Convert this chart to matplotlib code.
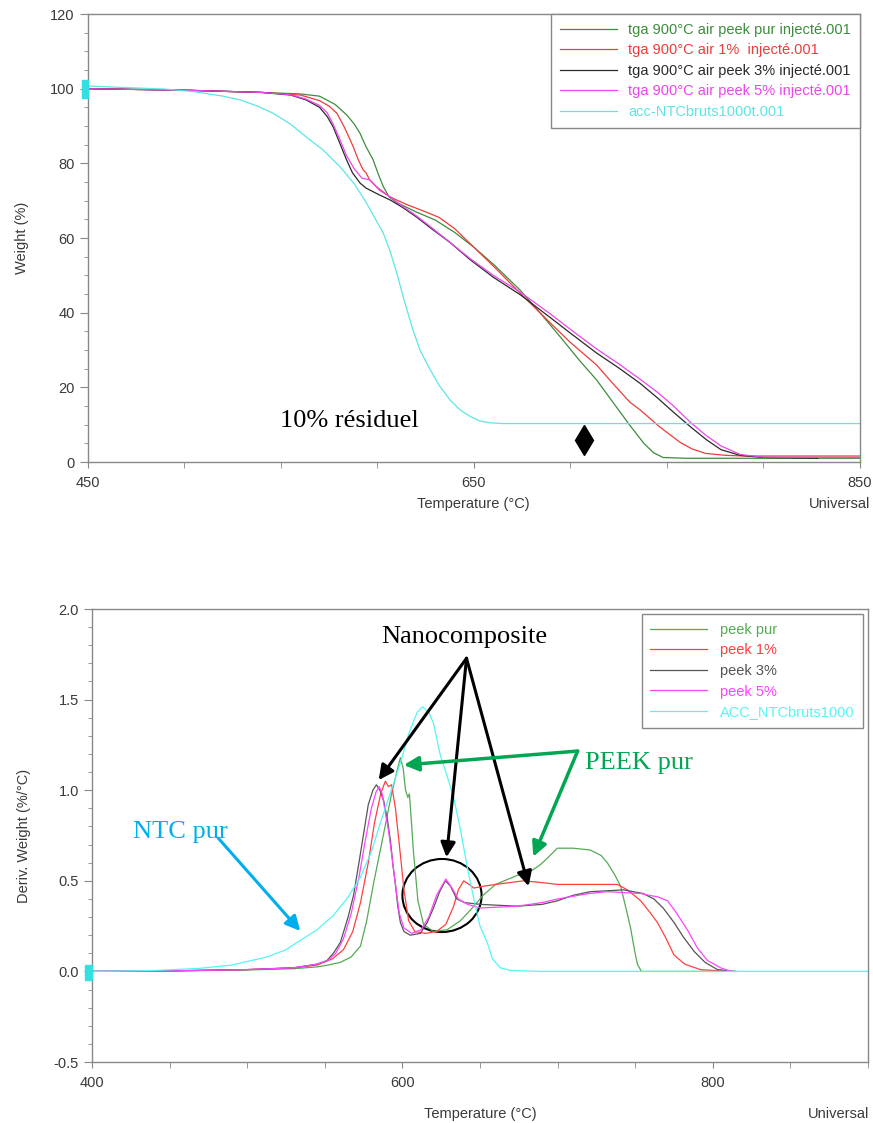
import numpy as np
import matplotlib.pyplot as plt
from matplotlib.ticker import MultipleLocator, FixedLocator
from matplotlib.patches import Ellipse, Rectangle
import matplotlib.transforms as mtransforms

plt.rcParams['font.family'] = ['Liberation Sans', 'DejaVu Sans']
SERIF = ['Liberation Serif', 'DejaVu Serif']

# ---------------- TGA curves (weight %) ----------------
tga_labels = ['tga 900°C air peek pur injecté.001',
              'tga 900°C air 1%  injecté.001',
              'tga 900°C air peek 3% injecté.001',
              'tga 900°C air peek 5% injecté.001',
              'acc-NTCbruts1000t.001']

t_pur = [450, 500, 540, 560, 570, 578, 584, 588, 591, 594, 597.7, 600.5, 603, 606, 610, 620, 630,
         640, 650, 660, 674, 685, 696, 705, 713.5, 722, 730.8, 738, 743, 748, 760, 800, 850]
w_pur = [100, 99.6, 99, 98.6, 98.0, 95.8, 93, 90.5, 88, 84.5, 81, 77, 73.8, 71, 69.5, 67, 64.8,
         61.5, 57.5, 53, 46, 39.5, 32.7, 27, 22, 16, 9.8, 5, 2.5, 1.2, 1.0, 1.0, 1.0]

t_1 = [450, 500, 540, 560, 570, 575, 579, 583, 587.4, 590, 592.6, 594, 596, 600, 606.5, 615, 625,
       632, 640, 650, 660, 674, 690, 700, 713.5, 722, 730.8, 736, 746, 756.7, 763, 770, 780, 790, 850]
w_1 = [100, 99.6, 99, 98.3, 96.8, 95.3, 93.4, 89.5, 84.5, 81, 78.2, 77.5, 75.5, 73.5, 71, 69, 67,
       65.5, 62.5, 57.5, 52.5, 45.2, 37, 32, 26, 21, 16, 14, 9.5, 5.3, 3.5, 2.3, 1.8, 1.6, 1.6]

t_3 = [450, 500, 540, 555, 563, 570, 574, 577, 580, 584, 587, 591, 594, 600, 606.5, 613, 620, 628,
       637.6, 648, 660, 674, 690, 700, 713.5, 725, 736, 745, 753, 762, 770.6, 778, 787.8, 800, 828]
w_3 = [100, 99.6, 99, 98.3, 97, 95, 92.5, 89.8, 86, 80.9, 77.5, 74.7, 73.4, 71.8, 70.2, 68.2, 65.7,
       62.5, 58.8, 54.2, 49.5, 44.8, 38.5, 34.5, 29.2, 25.2, 21.1, 17.2, 13.5, 9.5, 5.9, 3.3, 1.8, 1.2, 1.0]

t_5 = [450, 500, 540, 555, 563, 570, 574, 577, 580, 584, 588, 592, 596, 598, 601, 606.5, 613, 620,
       628, 637.6, 648, 660, 674, 690, 700, 713.5, 725, 736, 745, 753, 762, 770, 778, 788, 800, 850]
w_5 = [100, 99.6, 99, 98.4, 97.2, 95.5, 93.5, 90.5, 87, 82, 78.5, 76, 75.6, 74.5, 72.8, 71, 68.5, 66,
       62.8, 58.8, 54.5, 50, 45.5, 39.5, 35.5, 30.3, 26.3, 22.2, 18.7, 15.2, 10.7, 7.2, 4.3, 2, 1.3, 1.2]

t_ntc = [450, 470, 490, 505, 520, 529, 538, 546, 555, 563, 572, 580.6, 588, 594.4, 599, 603, 606.5,
         610, 614, 618, 622, 627, 632, 637.6, 642.7, 648, 653, 658, 665, 700, 850]
w_ntc = [100.7, 100.3, 99.9, 99.2, 98.0, 97.0, 95.3, 93.4, 90.5, 87.1, 83.5, 79.1, 74.5, 69.3, 65, 61.3, 56.5,
         50.6, 43, 36, 30, 25, 20.5, 16.6, 14, 12.2, 11, 10.5, 10.3, 10.3, 10.3]

# ---------------- DTG curves (deriv. weight %/°C) ----------------
dtg_labels = ['peek pur', 'peek 1%', 'peek 3%', 'peek 5%', 'ACC_NTCbruts1000']

d_t_pur = [400, 450, 500, 530, 545, 552, 560, 567, 573, 577, 581.5, 586, 590, 593, 596.6, 598.7, 600.5,
           602, 603.5, 604.5, 606, 607, 610, 613.6, 620, 628.8, 637.4, 645, 652, 660, 674, 684, 689,
           694, 699.8, 710, 721, 728, 732, 737, 740.6, 744, 747, 749.5, 751.4, 754, 810]
d_pur = [0, 0.003, 0.008, 0.015, 0.025, 0.035, 0.05, 0.08, 0.14, 0.28, 0.49, 0.68, 0.85, 0.98, 1.11, 1.18, 1.12,
         1.0, 0.96, 0.98, 0.8, 0.67, 0.39, 0.26, 0.22, 0.23, 0.28, 0.35, 0.42, 0.48, 0.53, 0.56, 0.59,
         0.63, 0.68, 0.68, 0.67, 0.64, 0.60, 0.53, 0.47, 0.35, 0.24, 0.12, 0.04, 0.0, 0.0]

d_t_1 = [400, 450, 500, 530, 545, 555, 562, 568, 573, 578, 582, 586, 589, 591, 593, 595.5, 598, 601,
         604, 608, 615, 622, 628, 633, 636, 639.5, 643, 646, 652, 660, 678, 690, 700, 720, 738.5, 745,
         753.5, 760, 764.3, 770, 775, 782, 792, 810]
d_1 = [0, 0.003, 0.01, 0.02, 0.035, 0.07, 0.12, 0.22, 0.38, 0.6, 0.82, 0.98, 1.05, 1.02, 1.03, 0.9, 0.7, 0.45,
       0.28, 0.22, 0.21, 0.22, 0.26, 0.36, 0.45, 0.50, 0.48, 0.46, 0.47, 0.48, 0.50, 0.49, 0.48, 0.48, 0.48, 0.45,
       0.39, 0.32, 0.27, 0.18, 0.09, 0.04, 0.01, 0.0]

d_t_3 = [400, 450, 500, 530, 545, 551.4, 555.5, 560, 565, 568.5, 572, 575, 578, 581, 583.2, 585.5, 588,
         590.5, 592.3, 594, 595.5, 597, 598.7, 601, 605, 611.6, 616, 620, 624, 627.7, 631, 635, 640, 650,
         674, 690, 700, 710, 721, 742.6, 755, 762, 768, 775, 781, 788, 795, 803, 815]
d_3 = [0, 0.003, 0.01, 0.02, 0.04, 0.06, 0.10, 0.16, 0.30, 0.42, 0.6, 0.76, 0.92, 1.0, 1.03, 1.0, 0.94,
       0.83, 0.72, 0.58, 0.48, 0.36, 0.27, 0.22, 0.2, 0.21, 0.27, 0.35, 0.44, 0.50, 0.47, 0.40, 0.38, 0.37,
       0.36, 0.37, 0.39, 0.42, 0.44, 0.45, 0.43, 0.40, 0.35, 0.27, 0.19, 0.11, 0.05, 0.01, 0.0]

d_t_5 = [400, 450, 500, 530, 545, 552, 557, 562, 567, 572, 576, 580, 583, 585, 587, 589.5, 591, 593,
         595.5, 598, 601, 606, 612, 617, 622, 628, 632, 636, 642, 650, 674, 690, 700, 720, 732, 753.5,
         765, 770.8, 776, 783.6, 790, 796.6, 805, 812]
d_5 = [0, 0.003, 0.01, 0.02, 0.04, 0.06, 0.1, 0.18, 0.32, 0.52, 0.72, 0.9, 0.99, 1.02, 0.98, 0.85, 0.78, 0.65,
       0.48, 0.32, 0.24, 0.21, 0.23, 0.30, 0.42, 0.51, 0.46, 0.40, 0.37, 0.35, 0.36, 0.38, 0.40, 0.43, 0.44, 0.43,
       0.41, 0.39, 0.33, 0.23, 0.13, 0.06, 0.02, 0.0]

d_t_ntc = [400, 440, 469.7, 490, 512.7, 525, 534, 545, 555.6, 565, 572.9, 580, 585.8, 592, 598.7, 604,
           609.5, 613, 617, 620, 624.5, 628, 633, 637, 641.7, 646, 650, 654.6, 658, 663, 670, 690, 900]
d_ntc = [0, 0.005, 0.017, 0.035, 0.08, 0.12, 0.17, 0.23, 0.31, 0.41, 0.52, 0.66, 0.82, 0.98, 1.15, 1.31,
         1.43, 1.46, 1.43, 1.37, 1.19, 1.10, 0.96, 0.80, 0.58, 0.40, 0.25, 0.16, 0.07, 0.02, 0.005, 0.0, 0.0]

tga_colors = ['#3c8c3c', '#ee3b3b', '#2a2a2a', '#ee44ee', '#5ce6e6']
dtg_colors = ['#55aa55', '#ff4040', '#555555', '#ff44ff', '#55f5f5']
spine_col = '#888888'
text_col = '#3a3a3a'


def style_axes(ax):
    for s in ax.spines.values():
        s.set_color(spine_col)
        s.set_linewidth(1.0)
    ax.tick_params(which='both', direction='out', color=spine_col, labelcolor=text_col,
                   labelsize=10.5, top=False, right=False)
    ax.tick_params(axis='y', which='major', length=6)
    ax.tick_params(axis='y', which='minor', length=3)
    ax.tick_params(axis='x', which='both', length=4, pad=6)


fig = plt.figure(figsize=(8.73, 11.23), dpi=100)

# ---------------- top: weight ----------------
ax1 = fig.add_axes([0.1008, 0.5886, 0.8843, 0.3989])
for t, w, c, lab in zip([t_pur, t_1, t_3, t_5, t_ntc], [w_pur, w_1, w_3, w_5, w_ntc], tga_colors, tga_labels):
    ax1.plot(t, w, color=c, lw=0.9, label=lab)
ax1.set_xlim(450, 850)
ax1.set_ylim(0, 120)
ax1.xaxis.set_major_locator(FixedLocator([450, 650, 850]))
ax1.xaxis.set_minor_locator(MultipleLocator(50))
ax1.yaxis.set_major_locator(MultipleLocator(20))
ax1.yaxis.set_minor_locator(MultipleLocator(5))
style_axes(ax1)
ax1.set_ylabel('Weight (%)', fontsize=10.5, color=text_col)
ax1.yaxis.set_label_coords(-0.076, 0.5)
ax1.set_xlabel('Temperature (°C)', fontsize=10.5, color=text_col)
ax1.xaxis.set_label_coords(0.499, -0.078)
ax1.text(1.013, -0.078, 'Universal', transform=ax1.transAxes, ha='right', va='top',
         fontsize=10.5, color=text_col)
leg1 = ax1.legend(loc='upper right', borderaxespad=0, fancybox=False, framealpha=1,
                  edgecolor=spine_col, fontsize=10.5, handlelength=3.9, handletextpad=0.8,
                  labelspacing=0.45, borderpad=0.6, labelcolor=tga_colors)
leg1.get_frame().set_linewidth(1.0)
ax1.text(549.5, 9.4, '10% résiduel', family=SERIF, fontsize=19, ha='left', va='baseline')
ax1.plot([707], [5.9], marker='d', markersize=15.5, color='black', clip_on=False)
tr1 = mtransforms.blended_transform_factory(ax1.transAxes, ax1.transData)
ax1.add_patch(Rectangle((-0.008, 97.6), 0.008, 4.8, transform=tr1, color='#33e0e0', clip_on=False, zorder=5))

# ---------------- bottom: derivative ----------------
ax2 = fig.add_axes([0.1054, 0.0543, 0.8889, 0.4034])
for t, d, c, lab in zip([d_t_pur, d_t_1, d_t_3, d_t_5, d_t_ntc], [d_pur, d_1, d_3, d_5, d_ntc], dtg_colors, dtg_labels):
    ax2.plot(t, d, color=c, lw=0.9, label=lab)
ax2.set_xlim(400, 900)
ax2.set_ylim(-0.5, 2.0)
ax2.xaxis.set_major_locator(FixedLocator([400, 600, 800]))
ax2.xaxis.set_minor_locator(MultipleLocator(50))
ax2.yaxis.set_major_locator(MultipleLocator(0.5))
ax2.yaxis.set_minor_locator(MultipleLocator(0.1))
ax2.yaxis.set_major_formatter(plt.FuncFormatter(lambda v, p: f'{v:.1f}'))
style_axes(ax2)
ax2.set_ylabel('Deriv. Weight (%/°C)', fontsize=10.5, color=text_col)
ax2.yaxis.set_label_coords(-0.078, 0.5)
ax2.set_xlabel('Temperature (°C)', fontsize=10.5, color=text_col)
ax2.xaxis.set_label_coords(0.5, -0.099)
ax2.text(0.922, -0.099, 'Universal', transform=ax2.transAxes, ha='left', va='top',
         fontsize=10.5, color=text_col)
leg2 = ax2.legend(loc='upper right', borderaxespad=0.35, fancybox=False, framealpha=1,
                  edgecolor=spine_col, fontsize=10.5, handlelength=3.9, handletextpad=0.85,
                  labelspacing=0.45, borderpad=0.6, labelcolor=dtg_colors)
leg2.get_frame().set_linewidth(1.0)
tr2 = mtransforms.blended_transform_factory(ax2.transAxes, ax2.transData)
ax2.add_patch(Rectangle((-0.009, -0.045), 0.009, 0.083, transform=tr2, color='#33e0e0', clip_on=False, zorder=5))

# annotations
ax2.text(640, 1.814, 'Nanocomposite', family=SERIF, fontsize=19, ha='center', va='baseline')
black_arrow = dict(arrowstyle='-|>', color='black', lw=2.2, mutation_scale=22, shrinkA=0, shrinkB=0)
for tip in [(584.7, 1.056), (628.4, 0.63), (681.3, 0.47)]:
    ax2.annotate('', xy=tip, xytext=(641.3, 1.728), arrowprops=black_arrow)

green = '#00a651'
ax2.text(717.4, 1.115, 'PEEK pur', family=SERIF, fontsize=19, ha='left', va='baseline', color=green)
green_arrow = dict(arrowstyle='-|>', color=green, lw=2.5, mutation_scale=22, shrinkA=0, shrinkB=0)
for tip in [(600.9, 1.139), (684.3, 0.633)]:
    ax2.annotate('', xy=tip, xytext=(712.9, 1.216), arrowprops=green_arrow)

blue = '#00aeef'
ax2.text(426.5, 0.735, 'NTC pur', family=SERIF, fontsize=19, ha='left', va='baseline', color=blue)
ax2.annotate('', xy=(534.2, 0.223), xytext=(481.3, 0.736),
             arrowprops=dict(arrowstyle='-|>', color=blue, lw=2.2, mutation_scale=22, shrinkA=0, shrinkB=0))

ax2.add_patch(Ellipse((625.5, 0.419), 51, 0.403, fill=False, edgecolor='black', lw=1.5))

fig.savefig('out.png', dpi=100)
